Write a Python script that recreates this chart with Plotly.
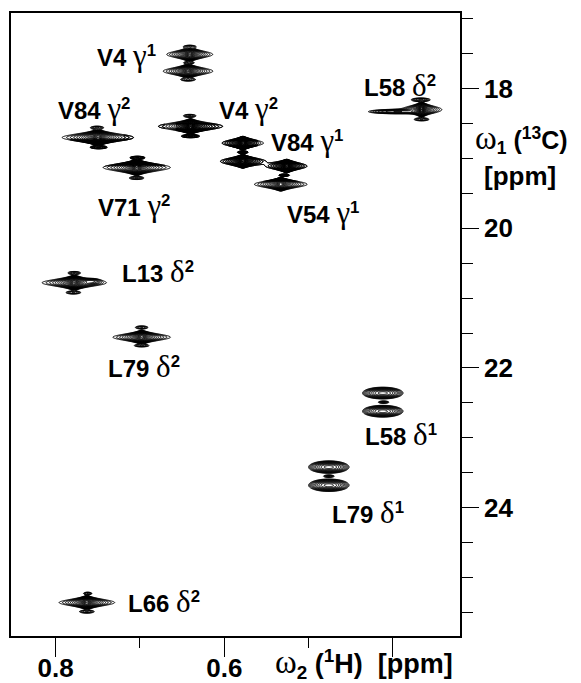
import numpy as np
import plotly.graph_objects as go

# ---------------- data ----------------
# assigned methyl peaks: residue, greek position, index, 1H shift, 13C shift
label_res = ["V4", "L58", "V84", "V4", "V84", "V71", "V54", "L13", "L79", "L58", "L79", "L66"]
label_greek = ["γ", "δ", "γ", "γ", "γ", "γ", "γ", "δ", "δ", "δ", "δ", "δ"]
label_idx = ["1", "2", "2", "2", "1", "2", "1", "2", "2", "1", "1", "2"]
peak_h = [0.642, 0.366, 0.750, 0.640, 0.578, 0.704, 0.529, 0.778, 0.698, 0.412, 0.476, 0.763]
peak_c = [17.63, 18.30, 18.70, 18.54, 18.91, 19.13, 19.24, 20.78, 21.56, 22.49, 23.55, 25.36]

# individual line components: 1H ppm, 13C ppm, relative height,
# 1H half-width, 13C width, 1H line shape (L = Lorentzian, G = Gaussian)
comp_h = [0.641, 0.643, 0.642, 0.641, 0.643,
          0.366, 0.396, 0.367, 0.366,
          0.750, 0.751, 0.749,
          0.640, 0.641, 0.640,
          0.578, 0.578, 0.578,
          0.526, 0.533, 0.529,
          0.704, 0.703, 0.704,
          0.778, 0.757, 0.778, 0.779,
          0.698, 0.698, 0.698,
          0.412, 0.412, 0.411,
          0.476, 0.476, 0.476,
          0.763, 0.762, 0.763]
comp_c = [17.51, 17.75, 17.63, 17.40, 17.87,
          18.30, 18.33, 18.16, 18.44,
          18.70, 18.56, 18.84,
          18.54, 18.39, 18.68,
          18.78, 19.04, 18.91,
          19.11, 19.37, 19.24,
          19.13, 18.99, 19.28,
          20.78, 20.76, 20.64, 20.92,
          21.56, 21.42, 21.68,
          22.36, 22.62, 22.49,
          23.42, 23.68, 23.55,
          25.36, 25.23, 25.49]
comp_amp = [120, 120, 3, 3, 3,
            200, 6, 4, 3,
            200, 3, 3,
            200, 3, 3,
            90, 90, 3,
            90, 110, 3,
            200, 3, 3,
            200, 5, 3, 3,
            150, 3, 3,
            16, 16, 3,
            16, 16, 3,
            150, 3, 3]
comp_wh = [0.0025, 0.0027, 0.0050, 0.0060, 0.0070,
           0.0017, 0.0200, 0.0080, 0.0070,
           0.0030, 0.0060, 0.0080,
           0.0027, 0.0060, 0.0080,
           0.0026, 0.0028, 0.0050,
           0.0025, 0.0030, 0.0050,
           0.0028, 0.0070, 0.0070,
           0.0027, 0.0060, 0.0060, 0.0070,
           0.0028, 0.0060, 0.0070,
           0.0120, 0.0120, 0.0050,
           0.0120, 0.0120, 0.0050,
           0.0027, 0.0040, 0.0070]
comp_wc = [0.034, 0.034, 0.011, 0.015, 0.015,
           0.035, 0.016, 0.016, 0.015,
           0.036, 0.015, 0.015,
           0.034, 0.015, 0.015,
           0.032, 0.032, 0.011,
           0.032, 0.032, 0.011,
           0.036, 0.015, 0.015,
           0.034, 0.020, 0.015, 0.015,
           0.032, 0.015, 0.013,
           0.036, 0.036, 0.011,
           0.038, 0.038, 0.011,
           0.032, 0.013, 0.015]
comp_shape = ["L", "L", "G", "G", "G",
              "L", "G", "G", "G",
              "L", "G", "G",
              "L", "G", "G",
              "L", "L", "G",
              "L", "L", "G",
              "L", "G", "G",
              "L", "G", "G", "G",
              "L", "G", "G",
              "G", "G", "G",
              "G", "G", "G",
              "L", "G", "G"]

x_tickvals = [0.8, 0.6, 0.4]
x_ticktext = ["0.8", "0.6", ""]
x_minorvals = [0.7, 0.5]
y_tickvals = [18, 20, 22, 24]
y_ticktext = ["18", "20", "22", "24"]

# ---------------- styling / layout ----------------
H_RANGE = [0.853, 0.3204]
C_RANGE = [25.839, 16.917]
label_shift = [(-62, -7), (-22, -24), (-4, -29), (58, -18), (64, -12), (-3, 38),
               (39, 37), (84, -11), (2, 29), (18, 32), (39, 36), (77, -1)]
SANS = "Liberation Sans"
SERIF = "Liberation Serif"
GREEK_STYLE = "font-family:%s;font-weight:normal;font-size:31px" % SERIF
OMEGA_STYLE = "font-family:%s;font-weight:normal;font-size:33px" % SERIF


def intensity(H, C):
    tot = np.zeros_like(H)
    for h, c, a, wh, wc, s in zip(comp_h, comp_c, comp_amp, comp_wh, comp_wc, comp_shape):
        u = (H - h) / wh
        fx = 1.0 / (1.0 + u ** 2) if s == "L" else np.exp(-np.log(2) * u ** 2)
        tot += a * fx * np.exp(-0.5 * ((C - c) / wc) ** 2)
    return tot


fig = go.Figure()
for h0, c0 in zip(peak_h, peak_c):
    xs = np.arange(h0 - 0.08, h0 + 0.08, 0.0007)
    ys = np.arange(c0 - 0.42, c0 + 0.42, 0.0075)
    H, C = np.meshgrid(xs, ys)
    Z = np.log10(intensity(H, C) + 1e-4).astype(np.float32)
    fig.add_trace(go.Contour(
        x=xs, y=ys, z=Z,
        autocontour=False,
        contours=dict(coloring="lines", start=0.0, end=np.log10(300), size=np.log10(1.3)),
        line=dict(width=1.0, color="black", smoothing=1),
        colorscale=[[0, "black"], [1, "black"]],
        showscale=False, hoverinfo="skip"))

annotations = []
for res, g, idx, h, c, (dx, dy) in zip(label_res, label_greek, label_idx, peak_h, peak_c, label_shift):
    txt = "%s <span style='%s'>%s</span><sup>%s</sup>" % (res, GREEK_STYLE, g, idx)
    annotations.append(dict(x=h, y=c, xref="x", yref="y", text=txt, showarrow=False,
                            xshift=dx, yshift=-dy, xanchor="center", yanchor="middle",
                            font=dict(family=SANS, size=24, color="black", weight="bold")))

# axis titles
annotations.append(dict(x=1.136, y=0.797, xref="paper", yref="paper", showarrow=False,
                        text="<span style='%s'>ω</span><sub>1</sub> (<sup>13</sup>C)" % OMEGA_STYLE,
                        xanchor="center", yanchor="middle",
                        font=dict(family=SANS, size=25, color="black", weight="bold")))
annotations.append(dict(x=1.134, y=0.738, xref="paper", yref="paper", showarrow=False,
                        text="[ppm]", xanchor="center", yanchor="middle",
                        font=dict(family=SANS, size=26, color="black", weight="bold")))
annotations.append(dict(x=0.786, y=-0.044, xref="paper", yref="paper", showarrow=False,
                        text="<span style='%s'>ω</span><sub>2</sub> (<sup>1</sup>H)  [ppm]" % OMEGA_STYLE,
                        xanchor="center", yanchor="middle",
                        font=dict(family=SANS, size=27, color="black", weight="bold")))

fig.update_layout(
    width=565, height=675,
    margin=dict(l=3, r=113, t=5, b=47, autoexpand=False),
    paper_bgcolor="white", plot_bgcolor="white",
    showlegend=False,
    annotations=annotations,
    xaxis=dict(range=H_RANGE, showgrid=False, zeroline=False, automargin=False,
               showline=True, linecolor="black", linewidth=1.5, mirror=True,
               ticks="outside", tickvals=x_tickvals, ticktext=x_ticktext,
               ticklen=19, tickwidth=1.3, tickcolor="black", ticklabelstandoff=-11,
               tickfont=dict(family=SANS, size=26, color="black", weight="bold"),
               minor=dict(tickvals=x_minorvals, ticks="outside", ticklen=10,
                          tickwidth=1.2, tickcolor="black")),
    yaxis=dict(range=C_RANGE, side="right", showgrid=False, zeroline=False, automargin=False,
               showline=True, linecolor="black", linewidth=1.8, mirror=True,
               ticks="outside", tickvals=y_tickvals, ticktext=y_ticktext,
               ticklen=17, tickwidth=1.3, tickcolor="black",
               tickfont=dict(family=SANS, size=26, color="black", weight="bold"),
               minor=dict(dtick=0.5, tick0=17, ticks="outside", ticklen=11,
                          tickwidth=1.2, tickcolor="black")),
)

fig.write_html("out.html")
